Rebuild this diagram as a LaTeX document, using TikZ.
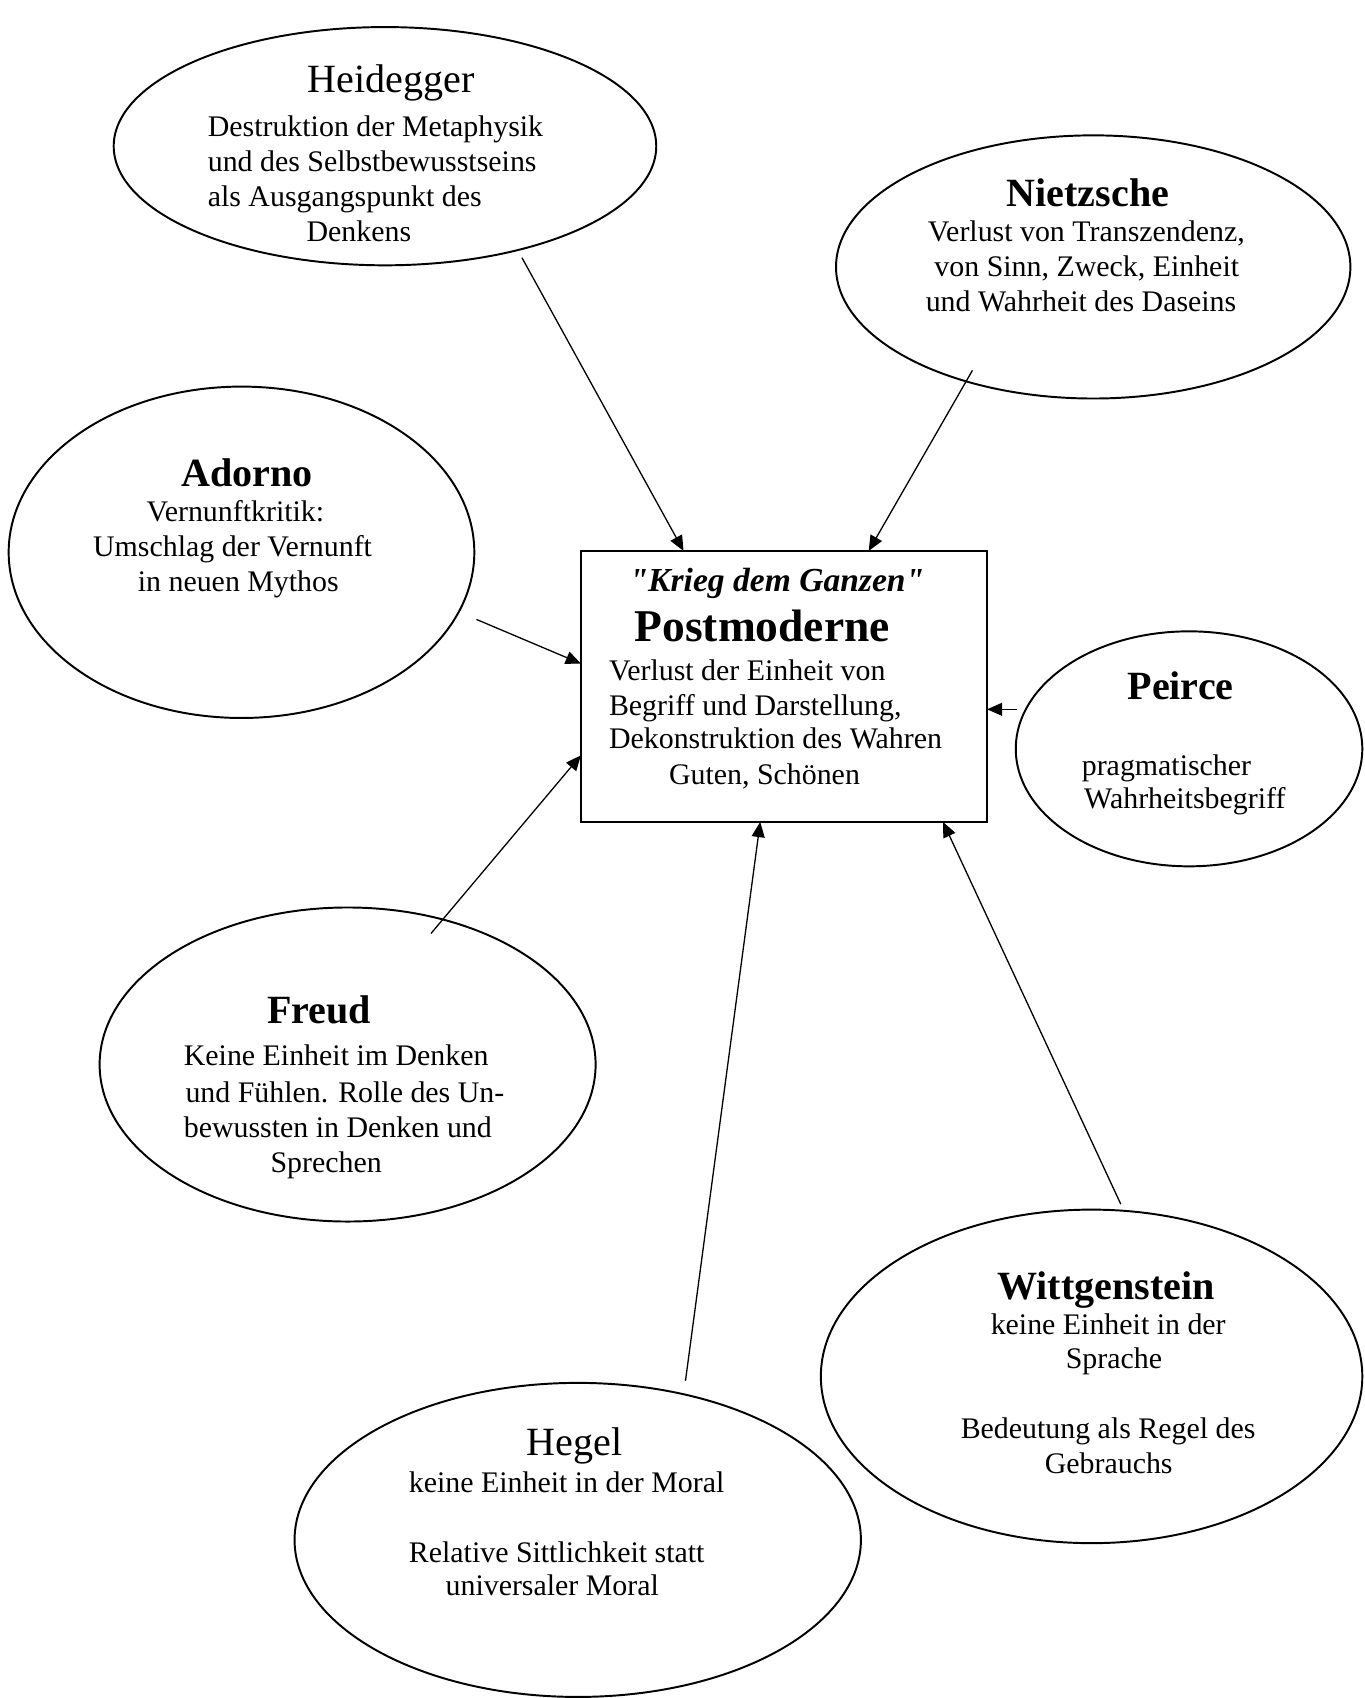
\documentclass[tikz,border=0pt]{standalone}
\usepackage{fontspec}
\setmainfont{Liberation Serif}[Ligatures=TeXOff]
\usetikzlibrary{arrows.meta,shapes.geometric}
\tikzset{
  ell/.style={draw, ellipse, line width=0.9pt, inner sep=0pt},
  bodytxt/.style={anchor=base west, inner sep=0pt, font=\fontsize{13.8}{16}\selectfont},
  ttl/.style={anchor=base west, inner sep=0pt, font=\fontsize{18.5}{22}\selectfont},
  bttl/.style={anchor=base west, inner sep=0pt, font=\fontsize{18.5}{22}\selectfont\bfseries},
  arr/.style={line width=0.6pt, -{Triangle[length=7pt,width=6pt]}}
}
\begin{document}
\begin{tikzpicture}[x=0.5pt,y=-0.5pt]
\useasboundingbox (0,0) rectangle (1260,1568);
\fill[white] (0,0) rectangle (1260,1568);

% ellipses
\node[ell, minimum width=250.5pt, minimum height=110pt] (heid) at (355.5,135) {};
\node[ell, minimum width=237.5pt, minimum height=121.5pt] (nietz) at (1009.5,246.5) {};
\node[ell, minimum width=215pt, minimum height=153pt] (ador) at (223,510) {};
\node[ell, minimum width=160pt, minimum height=108.5pt] (peir) at (1098,691.5) {};
\node[ell, minimum width=229pt, minimum height=145pt] (freu) at (321,983) {};
\node[ell, minimum width=250pt, minimum height=154pt] (witt) at (1008,1271) {};
\node[ell, minimum width=261.5pt, minimum height=145pt] (hege) at (533.5,1422) {};

% central box
\node[draw, line width=0.9pt, minimum width=187.5pt, minimum height=125.2pt, inner sep=0pt] (box) at (724,633.8) {};

% box text
\node[anchor=base west, inner sep=0pt, font=\fontsize{15.5}{18}\selectfont\bfseries\itshape] (bk) at (581,546) {"Krieg dem Ganzen"};
\node[anchor=base west, inner sep=0pt, font=\fontsize{21}{25}\selectfont\bfseries] (bp) at (585.7,592.8) {Postmoderne};
\node[bodytxt] (b1) at (562,628) {Verlust der Einheit von};
\node[bodytxt] (b2) at (562,660.5) {Begriff und Darstellung,};
\node[bodytxt] (b3) at (562,691.3) {Dekonstruktion des Wahren};
\node[bodytxt] (b4) at (617.4,724) {Guten, Schönen};

% Heidegger
\node[ttl] (ht) at (283.9,85.3) {Heidegger};
\node[bodytxt] (h1) at (191.5,126.2) {Destruktion der Metaphysik};
\node[bodytxt] (h2) at (191.5,158.6) {und des Selbstbewusstseins};
\node[bodytxt] (h3) at (191.5,190.9) {als Ausgangspunkt des};
\node[bodytxt] (h4) at (282.7,223.3) {Denkens};

% Nietzsche
\node[bttl] (nt) at (929.3,190.9) {Nietzsche};
\node[bodytxt] (n1) at (856.5,222.6) {Verlust von Transzendenz,};
\node[bodytxt] (n2) at (862.5,255) {von Sinn, Zweck, Einheit};
\node[bodytxt] (n3) at (854.5,287.3) {und Wahrheit des Daseins};

% Adorno
\node[bttl] (at) at (166.9,449.6) {Adorno};
\node[bodytxt] (a1) at (134.9,481.9) {Vernunftkritik:};
\node[bodytxt] (a2) at (85.6,514.3) {Umschlag der Vernunft};
\node[bodytxt] (a3) at (126.9,546.6) {in neuen Mythos};

% Peirce
\node[bttl] (pt) at (1040.8,646) {Peirce};
\node[bodytxt] (p1) at (998.6,716) {pragmatischer};
\node[bodytxt] (p2) at (1000.8,746.7) {Wahrheitsbegriff};

% Freud
\node[bttl] (ft) at (246.3,945.3) {Freud};
\node[bodytxt] (f1) at (169.4,983.8) {Keine Einheit im Denken};
\node[bodytxt] (f2) at (170.9,1017.7) {und Fühlen. Rolle des Un-};
\node[bodytxt] (f3) at (169.4,1050) {bewussten in Denken und};
\node[bodytxt] (f4) at (249.4,1082.4) {Sprechen};

% Wittgenstein
\node[bttl] (wt) at (920.7,1200) {Wittgenstein};
\node[bodytxt] (w1) at (914.5,1232.3) {keine Einheit in der};
\node[bodytxt] (w2) at (983.8,1264) {Sprache};
\node[bodytxt] (w3) at (886.8,1328.7) {Bedeutung als Regel des};
\node[bodytxt] (w4) at (964.4,1361) {Gebrauchs};

% Hegel
\node[ttl] (gt) at (485.9,1344.1) {Hegel};
\node[bodytxt] (g1) at (377.2,1378) {keine Einheit in der Moral};
\node[bodytxt] (g2) at (377.2,1442.7) {Relative Sittlichkeit statt};
\node[bodytxt] (g3) at (411.1,1473.4) {universaler Moral};

% connector ends
\coordinate (hA) at (482,238);  \coordinate (hB) at (631.2,508.7);
\coordinate (nA) at (898,342);  \coordinate (nB) at (802.2,508.7);
\coordinate (aA) at (440,572);  \coordinate (aB) at (536.4,612.8);
\coordinate (fA) at (398,862);  \coordinate (fB) at (536.4,697.5);
\coordinate (gA) at (633,1275); \coordinate (gB) at (702,759);
\coordinate (wA) at (1035,1112);\coordinate (wB) at (870.8,759);
\coordinate (pA) at (939,655);  \coordinate (pB) at (911.5,655);

\draw[arr] (hA) -- (hB);
\draw[arr] (nA) -- (nB);
\draw[arr] (aA) -- (aB);
\draw[arr] (fA) -- (fB);
\draw[arr] (gA) -- (gB);
\draw[arr] (wA) -- (wB);
\draw[arr] (pA) -- (pB);
\end{tikzpicture}
\end{document}
